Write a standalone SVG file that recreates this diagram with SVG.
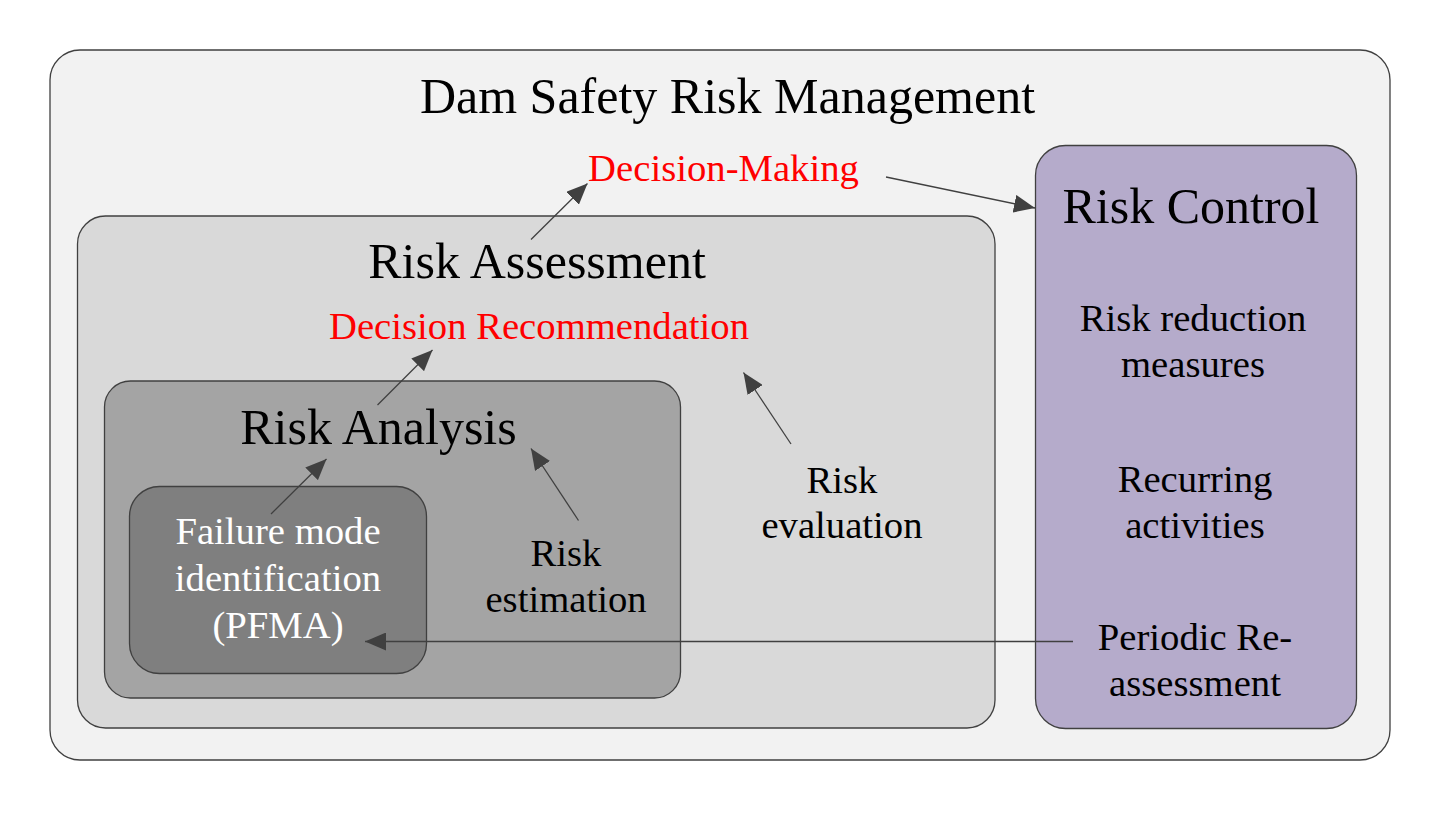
<svg xmlns="http://www.w3.org/2000/svg" width="1442" height="813" viewBox="0 0 1442 813">
<style>
.box{stroke:#404040;stroke-width:1.3}
.t{font-family:"Liberation Serif","Times New Roman",serif;text-anchor:middle;fill:#000}
.big{font-size:50px}
.sm{font-size:38.7px}
.red{fill:#ff0000}
.wh{fill:#ffffff}
.conn{stroke:#404040;stroke-width:1.3;fill:none;marker-end:url(#ah)}
</style>
<defs>
<marker id="ah" markerUnits="userSpaceOnUse" markerWidth="21" markerHeight="18" viewBox="0 0 21 18" refX="21" refY="9" orient="auto">
<path d="M0,0 L21,9 L0,18 z" fill="#404040"/>
</marker>
</defs>
<rect width="1442" height="813" fill="#ffffff"/>
<g id="dam-safety-risk-management">
<rect class="box" x="50" y="50" width="1340" height="710" rx="30" ry="30" fill="#f2f2f2"/>
<text class="t big" x="727.5" y="113">Dam Safety Risk Management</text>
<text class="t sm red" x="723.5" y="181">Decision-Making</text>
</g>
<g id="risk-assessment">
<rect class="box" x="77.5" y="216" width="917.5" height="512" rx="28" ry="28" fill="#d9d9d9"/>
<text class="t big" x="537" y="278">Risk Assessment</text>
<text class="t sm red" x="539" y="339">Decision Recommendation</text>
<text class="t sm" x="842"><tspan x="842" y="493">Risk</tspan><tspan x="842" y="538">evaluation</tspan></text>
</g>
<g id="risk-analysis">
<rect class="box" x="104.5" y="381" width="576" height="317" rx="26" ry="26" fill="#a4a4a4"/>
<text class="t big" x="378.5" y="444">Risk Analysis</text>
<text class="t sm" x="566"><tspan x="566" y="566">Risk</tspan><tspan x="566" y="612">estimation</tspan></text>
</g>
<g id="failure-mode-identification">
<rect class="box" x="129.5" y="486.5" width="297" height="187" rx="30" ry="30" fill="#7f7f7f"/>
<text class="t sm wh" x="278"><tspan x="278" y="544">Failure mode</tspan><tspan x="278" y="591">identification</tspan><tspan x="278" y="638">(PFMA)</tspan></text>
</g>
<g id="risk-control">
<rect class="box" x="1035.5" y="145.5" width="321" height="583" rx="30" ry="30" fill="#b5abcb"/>
<text class="t big" x="1191" y="223">Risk Control</text>
<text class="t sm" x="1193"><tspan x="1193" y="331">Risk reduction</tspan><tspan x="1193" y="377">measures</tspan></text>
<text class="t sm" x="1195"><tspan x="1195" y="492">Recurring</tspan><tspan x="1195" y="538">activities</tspan></text>
<text class="t sm" x="1195"><tspan x="1195" y="650">Periodic Re-</tspan><tspan x="1195" y="696">assessment</tspan></text>
</g>
<g id="connectors">
<path class="conn" d="M531,239.5 L587.5,183.5"/>
<path class="conn" d="M886,177 L1035,208"/>
<path class="conn" d="M377.5,405 L432.5,350"/>
<path class="conn" d="M791,444 L743.5,372.5"/>
<path class="conn" d="M271,514 L326.5,459"/>
<path class="conn" d="M578.5,520.5 L531,448.5"/>
<path class="conn" d="M1073,641.5 L365,641.5"/>
</g>
</svg>
